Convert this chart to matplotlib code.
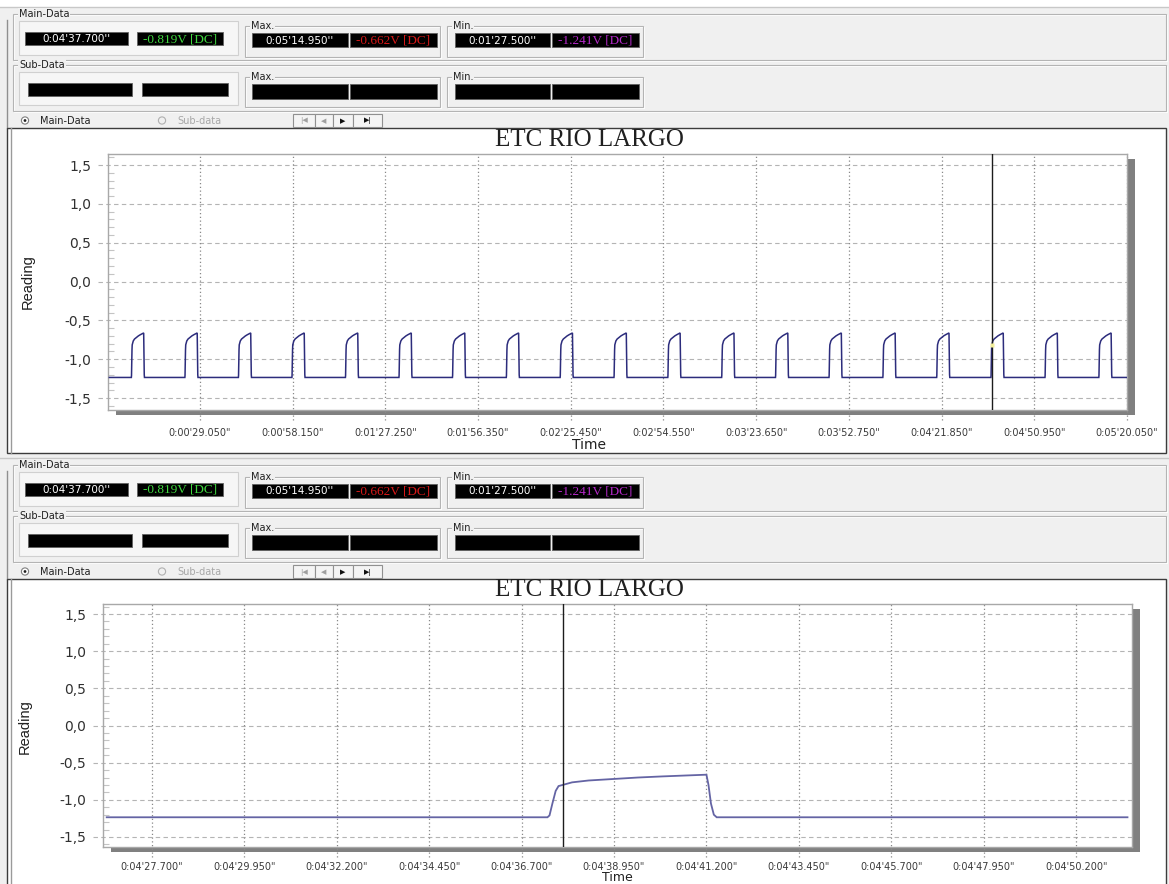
import matplotlib
matplotlib.use("Agg")
import matplotlib.pyplot as plt
from matplotlib.patches import Rectangle, Circle
from matplotlib.ticker import MultipleLocator

W, H, DPI = 1169, 884, 100

# ------------------------------------------------------------------ data
chart_title = "ETC RIO LARGO"
x_axis_label = "Time"
y_axis_label = "Reading"

y_ticks = [-1.5, -1.0, -0.5, 0.0, 0.5, 1.0, 1.5]
y_tick_labels = ["-1,5", "-1,0", "-0,5", "0,0", "0,5", "1,0", "1,5"]

overview_ticks = [29.05, 58.15, 87.25, 116.35, 145.45, 174.55, 203.65,
                  232.75, 261.85, 290.95, 320.05]
overview_tick_labels = ["0:00'29.050\"", "0:00'58.150\"", "0:01'27.250\"",
                        "0:01'56.350\"", "0:02'25.450\"", "0:02'54.550\"",
                        "0:03'23.650\"", "0:03'52.750\"", "0:04'21.850\"",
                        "0:04'50.950\"", "0:05'20.050\""]

detail_ticks = [267.7, 269.95, 272.2, 274.45, 276.7, 278.95, 281.2,
                283.45, 285.7, 287.95, 290.2]
detail_tick_labels = ["0:04'27.700\"", "0:04'29.950\"", "0:04'32.200\"",
                      "0:04'34.450\"", "0:04'36.700\"", "0:04'38.950\"",
                      "0:04'41.200\"", "0:04'43.450\"", "0:04'45.700\"",
                      "0:04'47.950\"", "0:04'50.200\""]

baseline_reading = -1.235
pulse_rise_times = [7.5, 24.3, 41.1, 57.9, 74.7, 91.5, 108.3, 125.2, 142.1,
                    159.0, 175.9, 192.8, 209.7, 226.5, 243.4, 260.3, 277.33,
                    294.3, 311.2]
pulse_offsets = [0.00, 0.05, 0.12, 0.20, 0.27, 0.60, 1.00, 1.60, 2.20,
                 2.80, 3.40, 3.87, 3.92, 3.98, 4.05, 4.12]
pulse_values = [-1.235, -1.21, -1.05, -0.88, -0.815, -0.765, -0.74, -0.72,
                -0.70, -0.685, -0.672, -0.662, -0.80, -1.05, -1.20, -1.235]

overview_range = (0.6, 320.0)
overview_xlim = (0.17, 320.05)
overview_ylim = (-1.654, 1.642)
detail_range = (266.6, 291.45)
detail_xlim = (266.51, 291.56)
detail_ylim = (-1.635, 1.635)

cursor_time = 277.7
cursor_reading = -0.819

readout_main = ["0:04'37.700''", "-0.819V [DC]"]
readout_max = ["0:05'14.950''", "-0.662V [DC]"]
readout_min = ["0:01'27.500''", "-1.241V [DC]"]

# ------------------------------------------------------------------ helpers
PANEL = "#f0f0f0"
SANS = "DejaVu Sans"
SERIF = ["Liberation Serif", "DejaVu Serif"]


def build_series(t0, t1):
    ts, vs = [t0], [baseline_reading]
    for r in pulse_rise_times:
        for o, v in zip(pulse_offsets, pulse_values):
            t = r + o
            if t0 < t < t1:
                ts.append(t)
                vs.append(v)
    ts.append(t1)
    vs.append(baseline_reading)
    return ts, vs


fig = plt.figure(figsize=(W / DPI, H / DPI), dpi=DPI)
fig.patch.set_facecolor(PANEL)
bg = fig.add_axes([0, 0, 1, 1])
bg.set_xlim(0, W)
bg.set_ylim(H, 0)
bg.axis("off")


def rect(x0, y0, x1, y1, fc="none", ec="none", lw=1.0, z=1):
    bg.add_patch(Rectangle((x0, y0), x1 - x0, y1 - y0, facecolor=fc,
                           edgecolor=ec, lw=lw, zorder=z))


def group(x0, y0, x1, y1, label, z=2):
    rect(x0 + 1, y0 + 1, x1 + 1, y1 + 1, ec="white", lw=0.8, z=z)
    rect(x0, y0, x1, y1, ec="#b4b4b4", lw=0.8, z=z)
    bg.text(x0 + 6, y0, label, fontsize=7, family=SANS, color="#202020",
            ha="left", va="center", zorder=z + 1,
            bbox=dict(facecolor=PANEL, edgecolor="none", pad=0.6))


def blackbox(x0, y0, x1, y1, text=None, color="white", serif=False):
    rect(x0, y0, x1, y1, fc="black", ec="#606060", lw=0.6, z=4)
    if text:
        if serif:
            bg.text((x0 + x1) / 2, (y0 + y1) / 2 + 0.5, text, fontsize=9.5,
                    family=SERIF, color=color, ha="center", va="center", zorder=5)
        else:
            bg.text((x0 + x1) / 2, (y0 + y1) / 2 + 0.5, text, fontsize=7.5,
                    family=SANS, color=color, ha="center", va="center", zorder=5)


def gui_panel(dy):
    bg.plot([0, W], [dy + 7, dy + 7], color="#c8c8c8", lw=1, zorder=2)
    bg.plot([7, 7], [dy + 20, dy + 128], color="#909090", lw=1, zorder=2)
    # main data
    group(13, dy + 14, 1166, dy + 60, "Main-Data")
    rect(19, dy + 21, 238, dy + 55, fc="#f6f6f6", ec="#d0d0d0", lw=0.8, z=3)
    blackbox(25, dy + 32, 128, dy + 45, readout_main[0])
    blackbox(137, dy + 32, 223, dy + 45, readout_main[1], "#3fd83f", True)
    group(245, dy + 26, 440, dy + 57, "Max.", z=3)
    blackbox(252, dy + 33, 348, dy + 47, readout_max[0])
    blackbox(350, dy + 33, 437, dy + 47, readout_max[1], "#d81818", True)
    group(447, dy + 26, 643, dy + 57, "Min.", z=3)
    blackbox(455, dy + 33, 550, dy + 47, readout_min[0])
    blackbox(552, dy + 33, 639, dy + 47, readout_min[1], "#b428c8", True)
    # sub data
    group(13, dy + 65, 1166, dy + 111, "Sub-Data")
    rect(19, dy + 72, 238, dy + 105, fc="#f6f6f6", ec="#d0d0d0", lw=0.8, z=3)
    blackbox(28, dy + 83, 132, dy + 96)
    blackbox(142, dy + 83, 228, dy + 96)
    group(245, dy + 77, 440, dy + 107, "Max.", z=3)
    blackbox(252, dy + 84, 348, dy + 99)
    blackbox(350, dy + 84, 437, dy + 99)
    group(447, dy + 77, 643, dy + 107, "Min.", z=3)
    blackbox(455, dy + 84, 550, dy + 99)
    blackbox(552, dy + 84, 639, dy + 99)
    # radio row
    bg.add_patch(Circle((25, dy + 120.5), 3.6, facecolor="white",
                        edgecolor="#808080", lw=0.8, zorder=4))
    bg.add_patch(Circle((25, dy + 120.5), 1.4, facecolor="#202020",
                        edgecolor="none", zorder=5))
    bg.text(40, dy + 121, "Main-Data", fontsize=7, family=SANS,
            color="#202020", ha="left", va="center", zorder=5)
    bg.add_patch(Circle((162, dy + 120.5), 3.6, facecolor=PANEL,
                        edgecolor="#b0b0b0", lw=0.8, zorder=4))
    bg.text(177, dy + 121, "Sub-data", fontsize=7, family=SANS,
            color="#a8a8a8", ha="left", va="center", zorder=5)
    # navigation buttons
    edges = [293, 315, 333, 353, 382]
    glyphs = ["|◀", "◀", "▶", "▶|"]
    gcol = ["#a0a0a0", "#a0a0a0", "#101010", "#101010"]
    for i in range(4):
        rect(edges[i], dy + 114, edges[i + 1], dy + 127, fc="#f4f4f4",
             ec="#909090", lw=0.8, z=4)
        bg.text((edges[i] + edges[i + 1]) / 2, dy + 121, glyphs[i],
                fontsize=5, family=SANS, color=gcol[i], ha="center",
                va="center", zorder=5)


def chart_frame(y0, y1):
    rect(7, y0, 1166, y1, fc="white", ec="#3c3c3c", lw=1.0, z=2)
    bg.plot([11, 11], [y0, y1], color="#9a9a9a", lw=1.0, zorder=3)


def chart(ax_px, xlim, ylim, ticks, labels, series_range, line_color,
          line_w, title_xy, xlabel_xy, ylabel_xy, xpad, xlabel_size,
          xlabel_va, marker=False):
    left, top, right, bottom = ax_px
    rect(left + 8, top + 5, right + 8, bottom + 5, fc="#808080", z=3)
    bg.text(title_xy[0], title_xy[1], chart_title, fontsize=18,
            family=SERIF, color="#202020", ha="center", va="center", zorder=5)
    bg.text(xlabel_xy[0], xlabel_xy[1], x_axis_label, fontsize=xlabel_size,
            family=SANS, color="#202020", ha="center", va=xlabel_va, zorder=5)
    bg.text(ylabel_xy[0], ylabel_xy[1], y_axis_label, fontsize=10.5,
            family=["Liberation Sans Narrow", "Liberation Sans", "DejaVu Sans"],
            color="#202020", ha="center", va="center", rotation=90, zorder=5)

    ax = fig.add_axes([left / W, (H - bottom) / H, (right - left) / W,
                       (bottom - top) / H])
    ax.set_facecolor("white")
    ax.set_xlim(*xlim)
    ax.set_ylim(*ylim)
    ax.set_xticks(ticks)
    ax.set_xticklabels(labels)
    ax.set_yticks(y_ticks)
    ax.set_yticklabels(y_tick_labels)
    ax.yaxis.set_minor_locator(MultipleLocator(0.1))
    ax.tick_params(axis="both", which="major", length=0)
    ax.tick_params(axis="x", pad=xpad, labelsize=7, labelcolor="#3a3a3a")
    ax.tick_params(axis="y", pad=12, labelsize=10, labelcolor="#303030")
    ax.tick_params(axis="y", which="minor", direction="in", length=4,
                   width=0.8, color="#c4c4c4")
    for lab in ax.get_xticklabels() + ax.get_yticklabels():
        lab.set_family(SANS)
    for s in ax.spines.values():
        s.set_color("#a8a8a8")
        s.set_linewidth(1.0)
    for yv in y_ticks:
        ax.plot([-0.0098, 1], [yv, yv], transform=ax.get_yaxis_transform(),
                ls=(0, (4, 3)), color="#b4b4b4", lw=0.8, clip_on=False,
                zorder=1)
    for xv in ticks:
        ax.plot([xv, xv], [-0.04, 1], transform=ax.get_xaxis_transform(),
                ls=(0, (1, 2)), color="#888888", lw=0.9, clip_on=False,
                zorder=1)
    ts, vs = build_series(*series_range)
    ax.plot(ts, vs, color=line_color, lw=line_w, zorder=3,
            solid_joinstyle="miter")
    ax.axvline(cursor_time, color="#1c1c1c", lw=1.0, zorder=4)
    if marker:
        ax.plot([cursor_time], [cursor_reading], "s", ms=2.5,
                color="#f2ee9a", mec="none", zorder=5)
    return ax


# top window
bg.add_patch(Rectangle((0, 0), W, 7, facecolor="white", edgecolor="none",
                       zorder=1))
gui_panel(0)
chart_frame(128, 453)
chart((108, 154, 1127, 410), overview_xlim, overview_ylim, overview_ticks,
      overview_tick_labels, overview_range, "#2c2c7c", 1.1,
      (589, 140), (589, 445), (28, 282), 13, 10, "center", marker=True)

# bottom window
gui_panel(451)
chart_frame(579, 890)
chart((103, 604, 1132, 847), detail_xlim, detail_ylim, detail_ticks,
      detail_tick_labels, detail_range, "#6464a4", 1.3,
      (589, 590), (617, 884), (25, 727), 11, 9, "bottom")

fig.savefig("out.png", dpi=DPI, facecolor=fig.get_facecolor())
